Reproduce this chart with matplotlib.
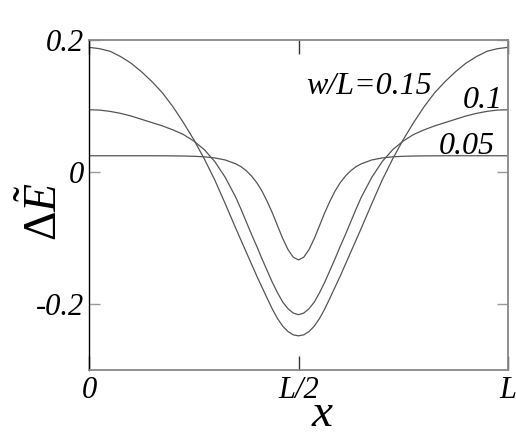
import matplotlib
matplotlib.use("Agg")
import matplotlib.pyplot as plt

plt.rcParams['mathtext.fontset'] = 'custom'
plt.rcParams['mathtext.rm'] = 'Liberation Serif'
plt.rcParams['mathtext.it'] = 'Liberation Serif:italic'

# x in units of L
x = [0.0, 0.025, 0.05, 0.075, 0.1, 0.125, 0.15, 0.175, 0.2, 0.225, 0.25, 0.275,
     0.3, 0.325, 0.35, 0.3625, 0.375, 0.3875, 0.4, 0.4125, 0.425, 0.4375, 0.45,
     0.4625, 0.475, 0.4875, 0.5, 0.5125, 0.525, 0.5375, 0.55, 0.5625, 0.575,
     0.5875, 0.6, 0.6125, 0.625, 0.6375, 0.65, 0.675, 0.7, 0.725, 0.75, 0.775,
     0.8, 0.825, 0.85, 0.875, 0.9, 0.925, 0.95, 0.975, 1.0]

# w/L = 0.15
dE_015 = [0.189, 0.187, 0.183, 0.175, 0.165, 0.152, 0.137, 0.120, 0.099, 0.075,
          0.049, 0.020, -0.012, -0.048, -0.085, -0.103, -0.121, -0.139, -0.157,
          -0.174, -0.191, -0.2075, -0.222, -0.2335, -0.2415, -0.2465, -0.248,
          -0.2465, -0.2415, -0.2335, -0.222, -0.2075, -0.191, -0.174, -0.157,
          -0.139, -0.121, -0.103, -0.085, -0.048, -0.012, 0.020, 0.049, 0.075,
          0.099, 0.120, 0.137, 0.152, 0.165, 0.175, 0.183, 0.187, 0.189]

# w/L = 0.1
dE_010 = [0.0945, 0.094, 0.092, 0.089, 0.085, 0.080, 0.075, 0.070, 0.064, 0.057,
          0.047, 0.034, 0.016, -0.008, -0.038, -0.056, -0.075, -0.094, -0.112,
          -0.131, -0.149, -0.167, -0.183, -0.197, -0.207, -0.2135, -0.216,
          -0.2135, -0.207, -0.197, -0.183, -0.167, -0.149, -0.131, -0.112,
          -0.094, -0.075, -0.056, -0.038, -0.008, 0.016, 0.034, 0.047, 0.057,
          0.064, 0.070, 0.075, 0.080, 0.085, 0.089, 0.092, 0.094, 0.0945]

# w/L = 0.05
dE_005 = [0.0248, 0.0248, 0.0248, 0.0248, 0.0248, 0.0248, 0.0248, 0.0247, 0.0246,
          0.0244, 0.024, 0.0232, 0.0215, 0.0184, 0.0126, 0.0083, 0.0022, -0.0057,
          -0.0157, -0.0284, -0.0442, -0.0617, -0.0815, -0.1008, -0.1174, -0.1289,
          -0.133, -0.1289, -0.1174, -0.1008, -0.0815, -0.0617, -0.0442, -0.0284,
          -0.0157, -0.0057, 0.0022, 0.0083, 0.0126, 0.0184, 0.0215, 0.0232, 0.024,
          0.0244, 0.0246, 0.0247, 0.0248, 0.0248, 0.0248, 0.0248, 0.0248, 0.0248,
          0.0248]

xticks = [0, 0.5, 1]
xtick_labels = ['0', 'L/2', 'L']
yticks = [-0.2, 0, 0.2]
ytick_labels = ['-0.2', '0', '0.2']

serif = 'Liberation Serif'

fig = plt.figure(figsize=(5.16, 4.36), dpi=100)
ax = fig.add_axes([0.173, 0.151, 0.811, 0.757])

for y in (dE_015, dE_010, dE_005):
    ax.plot(x, y, color='#555555', lw=0.9)

ax.set_xlim(0, 1)
ax.set_ylim(-0.3, 0.2)

ax.set_xticks(xticks)
ax.set_xticklabels(xtick_labels, fontfamily=serif, fontstyle='italic', fontsize=22)
ax.set_yticks(yticks)
ax.set_yticklabels(ytick_labels, fontfamily=serif, fontstyle='italic', fontsize=22)
ax.tick_params(direction='in', top=True, right=True, length=10, width=1,
               color='#888888', pad=4)
ax.tick_params(axis='x', colors='#333333', labelcolor='black')
ax.tick_params(axis='y', length=8, colors='#999999', labelcolor='black')

for side in ('top', 'right', 'bottom'):
    ax.spines[side].set_color('#888888')
    ax.spines[side].set_linewidth(1.3)
ax.spines['left'].set_color('black')
ax.spines['left'].set_linewidth(1.0)

ax.text(0.518, 0.119, 'w/L=0.15', fontfamily=serif, fontstyle='italic',
        fontsize=23, ha='left', va='baseline')
ax.text(0.892, 0.0965, '0.1', fontfamily=serif, fontstyle='italic',
        fontsize=23, ha='left', va='baseline')
ax.text(0.835, 0.0268, '0.05', fontfamily=serif, fontstyle='italic',
        fontsize=23, ha='left', va='baseline')

fig.text(0.625, 0.023, 'x', fontfamily=serif, fontstyle='italic',
         fontsize=34, ha='center', va='baseline')
fig.text(0.085, 0.515, r'$\Delta\tilde{E}$', fontsize=33, rotation=90,
         ha='center', va='center')

fig.savefig('out.png', dpi=100)
